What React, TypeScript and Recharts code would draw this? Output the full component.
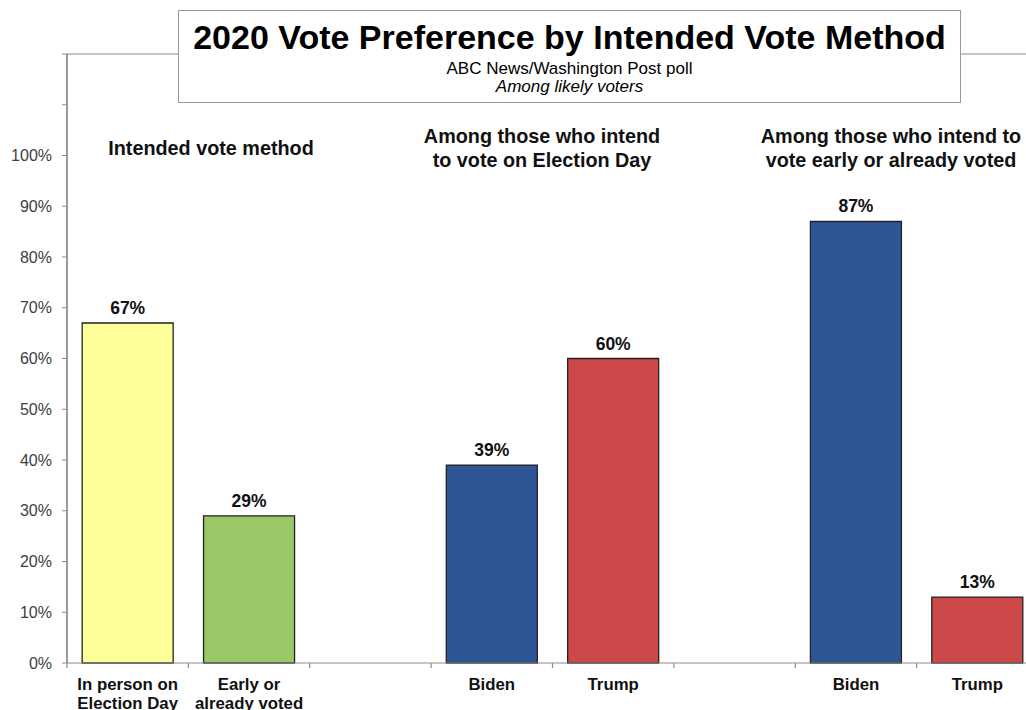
import React from "react";
import {
  BarChart,
  Bar,
  XAxis,
  YAxis,
  Cell,
  LabelList,
  ReferenceLine,
} from "recharts";

// categories (blank slots separate the three groups)
const categories = [
  "In person on\nElection Day",
  "Early or\nalready voted",
  "",
  "Biden",
  "Trump",
  "",
  "Biden",
  "Trump",
];
const values: (number | null)[] = [67, 29, null, 39, 60, null, 87, 13];
const barColors = [
  "#FFFF99",
  "#9BC867",
  "#ffffff",
  "#2E5596",
  "#CD4849",
  "#ffffff",
  "#2E5596",
  "#CD4849",
];
const yTicks = [0, 10, 20, 30, 40, 50, 60, 70, 80, 90, 100, 110, 120];

const groupHeaders = [
  { lines: ["Intended vote method"], x: 211, y: 136 },
  { lines: ["Among those who intend", "to vote on Election Day"], x: 542, y: 124 },
  { lines: ["Among those who intend to", "vote early or already voted"], x: 891, y: 124 },
];

const FONT = '"Liberation Sans", Arial, Helvetica, sans-serif';

const data = categories.map((name, i) => ({ name, value: values[i] }));

// category label + boundary tick mark on the left edge of each band
const CategoryTick = (props: any) => {
  const { x, y, payload, width } = props;
  const band = width / categories.length;
  const lines = String(payload.value).split("\n");
  const axisY = y - 8;
  return (
    <g>
      <line
        x1={x - band / 2}
        x2={x - band / 2}
        y1={axisY}
        y2={axisY + 5}
        stroke="#8c8c8c"
        strokeWidth={1.2}
      />
      <text
        x={x}
        y={axisY + 27}
        textAnchor="middle"
        fontFamily={FONT}
        fontSize={16.8}
        fontWeight="bold"
        fill="#111"
      >
        {lines.map((l, i) => (
          <tspan key={i} x={x} dy={i === 0 ? 0 : 18.5}>
            {l}
          </tspan>
        ))}
      </text>
    </g>
  );
};

export default function App() {
  return (
    <div
      style={{
        position: "absolute",
        left: 0,
        top: 0,
        width: 1026,
        height: 710,
        overflow: "hidden",
        background: "#fff",
        fontFamily: FONT,
      }}
    >
      <BarChart
        width={1060}
        height={710}
        data={data}
        margin={{ top: 54, right: 22, left: 0, bottom: 0 }}
        barCategoryGap="12.5%"
      >
        <XAxis
          dataKey="name"
          interval={0}
          height={47}
          tick={<CategoryTick />}
          tickLine={false}
          tickSize={0}
          tickMargin={8}
          axisLine={{ stroke: "#8c8c8c", strokeWidth: 1.2 }}
        />
        <YAxis
          width={67}
          domain={[0, 120]}
          ticks={yTicks}
          interval={0}
          tickFormatter={(v: number) => (v <= 100 ? `${v}%` : "")}
          tick={{ fontFamily: FONT, fontSize: 16, fill: "#404040" }}
          tickSize={5}
          tickMargin={10}
          tickLine={{ stroke: "#8c8c8c" }}
          axisLine={{ stroke: "#595959", strokeWidth: 1.2 }}
        />
        <ReferenceLine y={120} stroke="#8c8c8c" strokeWidth={1.2} />
        <Bar dataKey="value" isAnimationActive={false} stroke="#222" strokeWidth={1.3}>
          {data.map((d, i) => (
            <Cell key={i} fill={barColors[i]} />
          ))}
          <LabelList
            dataKey="value"
            position="top"
            offset={9}
            formatter={(v: any) => (v == null ? "" : `${v}%`)}
            style={{ fontFamily: FONT, fontSize: 17.5, fontWeight: "bold", fill: "#111" }}
          />
        </Bar>
      </BarChart>

      {/* title box */}
      <div
        style={{
          position: "absolute",
          left: 178,
          top: 10,
          width: 781,
          height: 91,
          border: "1px solid #999",
          background: "#fff",
          textAlign: "center",
          color: "#000",
        }}
      >
        <div style={{ fontSize: 34, fontWeight: "bold", lineHeight: "38px", marginTop: 7 }}>
          2020 Vote Preference by Intended Vote Method
        </div>
        <div style={{ fontSize: 17, lineHeight: "18px", marginTop: 4 }}>
          ABC News/Washington Post poll
        </div>
        <div style={{ fontSize: 17, lineHeight: "18px", fontStyle: "italic" }}>
          Among likely voters
        </div>
      </div>

      {groupHeaders.map((g, i) => (
        <div
          key={i}
          style={{
            position: "absolute",
            left: g.x - 200,
            top: g.y,
            width: 400,
            textAlign: "center",
            fontSize: 19.8,
            fontWeight: "bold",
            lineHeight: "24px",
            color: "#111",
          }}
        >
          {g.lines.map((l, j) => (
            <div key={j}>{l}</div>
          ))}
        </div>
      ))}
    </div>
  );
}
